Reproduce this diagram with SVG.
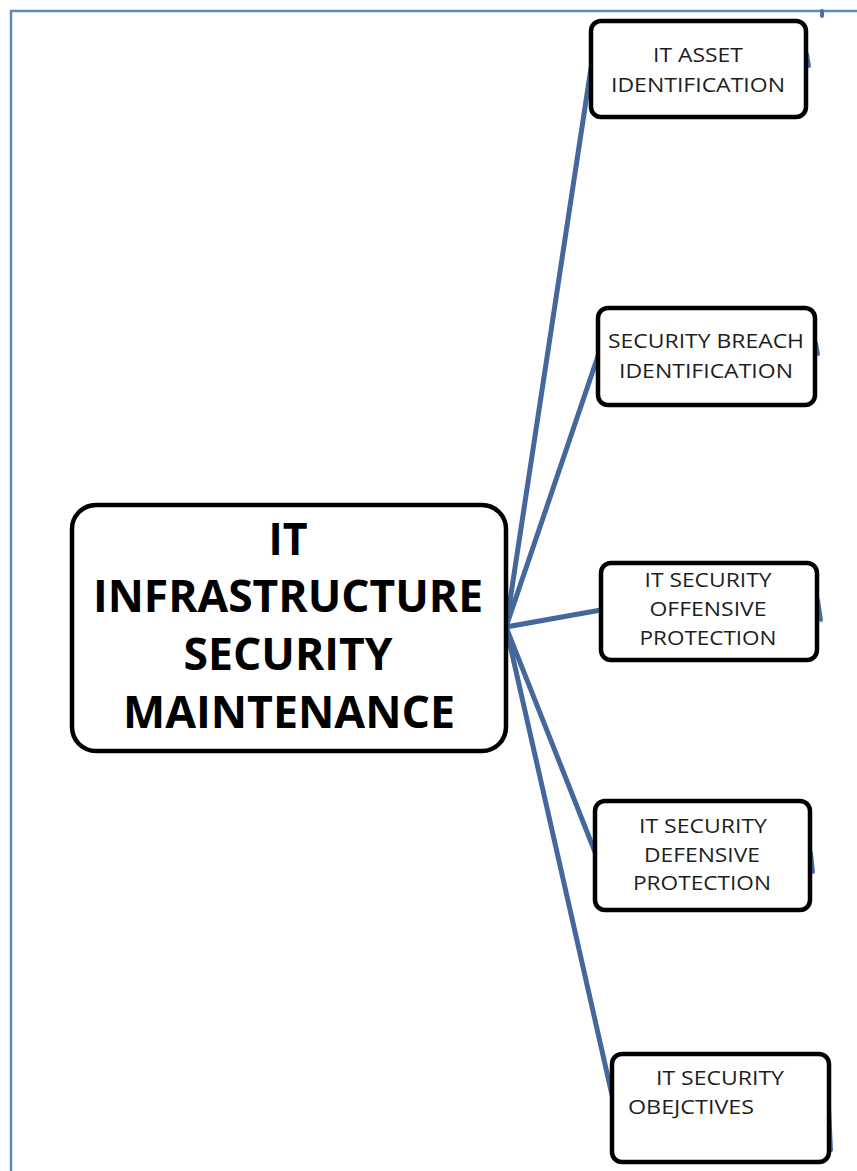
<svg xmlns="http://www.w3.org/2000/svg" width="857" height="1171" viewBox="0 0 857 1171">
<style>
.frame{stroke:#5b87c5;stroke-width:2.5;fill:none}
.box{fill:#fff;stroke:#000;stroke-width:4.5}
.conn{stroke:#44689b;stroke-width:5;fill:none;stroke-linecap:round}
.tick{stroke:#4a72a8;stroke-width:4;fill:none;stroke-linecap:round}
.big{font-family:"Open Sans","Noto Sans",sans-serif;font-weight:bold;font-size:44px;fill:#000;text-anchor:middle}
.sm{font-family:"Open Sans","Noto Sans",sans-serif;font-size:20px;font-weight:500;fill:#1e1e1e;text-anchor:middle}
</style>
<rect width="857" height="1171" fill="#fff"/>
<path class="frame" d="M11,1171 V11 H857"/>
<g id="connectors">
<line class="conn" x1="506" y1="627" x2="591" y2="68"/>
<line class="conn" x1="506" y1="627" x2="598" y2="356"/>
<line class="conn" x1="506" y1="627" x2="601" y2="610"/>
<line class="conn" x1="506" y1="627" x2="595" y2="852"/>
<line class="conn" x1="506" y1="627" x2="612" y2="1095"/>
<path class="tick" d="M807,54 L809,66"/>
<path class="tick" d="M816,343 L818,354"/>
<path class="tick" d="M818,600 L821,620"/>
<path class="tick" d="M811,853 L813,872"/>
<path class="tick" d="M829,1108 L831,1150"/>
<path class="tick" d="M822,11 L822,16" stroke-width="2"/>
</g>
<g id="main">
<rect class="box" x="72" y="505" width="434" height="246" rx="24"/>
<text class="big" x="288" y="555" textLength="39" lengthAdjust="spacingAndGlyphs">IT</text>
<text class="big" x="288" y="612" textLength="390" lengthAdjust="spacingAndGlyphs">INFRASTRUCTURE</text>
<text class="big" x="288" y="670" textLength="209" lengthAdjust="spacingAndGlyphs">SECURITY</text>
<text class="big" x="289" y="728" textLength="332" lengthAdjust="spacingAndGlyphs">MAINTENANCE</text>
</g>
<g id="n1">
<rect class="box" x="591" y="21" width="215" height="96" rx="10"/>
<text class="sm" x="698" y="62" textLength="90" lengthAdjust="spacingAndGlyphs">IT ASSET</text>
<text class="sm" x="698" y="92" textLength="174" lengthAdjust="spacingAndGlyphs">IDENTIFICATION</text>
</g>
<g id="n2">
<rect class="box" x="598" y="308" width="217" height="97" rx="10"/>
<text class="sm" x="706" y="348" textLength="196" lengthAdjust="spacingAndGlyphs">SECURITY BREACH</text>
<text class="sm" x="706" y="378" textLength="174" lengthAdjust="spacingAndGlyphs">IDENTIFICATION</text>
</g>
<g id="n3">
<rect class="box" x="601" y="563" width="216" height="97" rx="10"/>
<text class="sm" x="708" y="587" textLength="127" lengthAdjust="spacingAndGlyphs">IT SECURITY</text>
<text class="sm" x="708" y="616" textLength="117" lengthAdjust="spacingAndGlyphs">OFFENSIVE</text>
<text class="sm" x="708" y="645" textLength="137" lengthAdjust="spacingAndGlyphs">PROTECTION</text>
</g>
<g id="n4">
<rect class="box" x="595" y="801" width="215" height="109" rx="10"/>
<text class="sm" x="703" y="833" textLength="128" lengthAdjust="spacingAndGlyphs">IT SECURITY</text>
<text class="sm" x="702" y="862" textLength="116" lengthAdjust="spacingAndGlyphs">DEFENSIVE</text>
<text class="sm" x="702" y="890" textLength="138" lengthAdjust="spacingAndGlyphs">PROTECTION</text>
</g>
<g id="n5">
<rect class="box" x="612" y="1054" width="217" height="108" rx="10"/>
<text class="sm" x="720" y="1085" textLength="128" lengthAdjust="spacingAndGlyphs">IT SECURITY</text>
<text class="sm" x="691" y="1114" textLength="126" lengthAdjust="spacingAndGlyphs">OBEJCTIVES</text>
</g>
</svg>
